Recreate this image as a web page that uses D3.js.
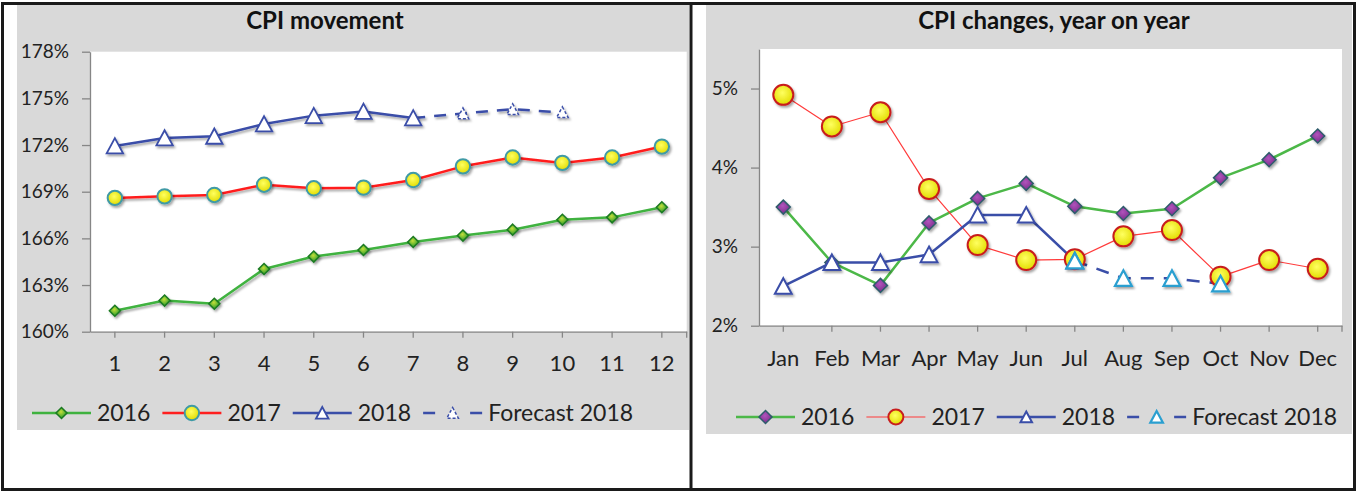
<!DOCTYPE html>
<html>
<head>
<meta charset="utf-8">
<script src="https://cdn.jsdelivr.net/npm/d3@7"></script>
<style>
    html, body { margin: 0; padding: 0; background: #fff; }
    svg { display: block; font-family: Lato, "Open Sans", sans-serif; }
</style>
</head>
<body>
<script>
// categories
const monthNumbers = [1, 2, 3, 4, 5, 6, 7, 8, 9, 10, 11, 12];
const monthNames = ['Jan', 'Feb', 'Mar', 'Apr', 'May', 'Jun', 'Jul', 'Aug', 'Sep', 'Oct', 'Nov', 'Dec'];
const legendLabels = ['2016', '2017', '2018', 'Forecast 2018'];

// CPI movement (%)
const cpi2016 = [161.35, 162.0, 161.8, 164.03, 164.83, 165.25, 165.77, 166.18, 166.56, 167.2, 167.35, 168.0];
const cpi2017 = [168.6, 168.7, 168.79, 169.45, 169.22, 169.26, 169.75, 170.63, 171.2, 170.85, 171.2, 171.9];
const cpi2018 = [171.94, 172.45, 172.56, 173.35, 173.89, 174.16, 173.74, null, null, null, null, null];
const cpiForecast2018 = [null, null, null, null, null, null, 173.74, 174.03, 174.3, 174.1, null, null];
const cpiTicks = [160, 163, 166, 169, 172, 175, 178];

// CPI changes, year on year (%)
const yoy2016 = [3.5, 2.8, 2.51, 3.3, 3.61, 3.8, 3.51, 3.42, 3.48, 3.87, 4.1, 4.4];
const yoy2017 = [4.92, 4.52, 4.7, 3.73, 3.02, 2.83, 2.84, 3.13, 3.21, 2.62, 2.83, 2.72];
const yoy2018 = [2.5, 2.8, 2.8, 2.9, 3.4, 3.4, 2.82, null, null, null, null, null];
const yoyForecast2018 = [null, null, null, null, null, null, 2.82, 2.6, 2.6, 2.53, null, null];
const yoyTicks = [2, 3, 4, 5];

const W = 1361, H = 491;
const svg = d3.select('body').append('svg').attr('width', W).attr('height', H);
const defs = svg.append('defs');

// drop shadow like the spreadsheet markers
defs.append('filter')
    .attr('id', 'shadow')
    .attr('x', '-50%').attr('y', '-50%').attr('width', '200%').attr('height', '200%')
    .append('feDropShadow')
    .attr('dx', 1.5).attr('dy', 2).attr('stdDeviation', 1.2)
    .attr('flood-color', '#000').attr('flood-opacity', 0.35);

function radial(id, inner, outer) {
    const g = defs.append('radialGradient').attr('id', id)
        .attr('cx', '45%').attr('cy', '40%').attr('r', '60%');
    g.append('stop').attr('offset', '0%').attr('stop-color', inner);
    g.append('stop').attr('offset', '100%').attr('stop-color', outer);
}
radial('yellowBall', '#ffff60', '#e2dc00');
radial('greenGem', '#c4de3a', '#1f9a2a');
radial('purpleGem', '#b054bc', '#7a2c8a');

// marker shapes, centred on the point
const shapes = {
    diamond: (s) => `M0,${-s}L${s},0L0,${s}L${-s},0Z`,
    triangle: (s) => `M0,${-s}L${s * 1.05},${s * 0.95}L${-s * 1.05},${s * 0.95}Z`,
    circle: (s) => `M${-s},0A${s},${s} 0 1,0 ${s},0A${s},${s} 0 1,0 ${-s},0Z`
};

// cell borders
svg.append('rect')
    .attr('x', 2.5).attr('y', 3.5).attr('width', 1352).attr('height', 486)
    .attr('fill', 'none').attr('stroke', '#1a1a1a').attr('stroke-width', 3);
svg.append('line')
    .attr('x1', 691).attr('x2', 691).attr('y1', 3).attr('y2', 490)
    .attr('stroke', '#1a1a1a').attr('stroke-width', 3);

const charts = [
    {
        title: 'CPI movement', titleX: 325,
        bg: {x: 17, y: 5, w: 672, h: 425},
        plot: {x0: 90, x1: 686.7, y0: 51.7, y1: 331.7},
        categories: monthNumbers, yDomain: [160, 178], yTicks: cpiTicks,
        labelCenter: 363, legendX: 32, legendY: 413, lineShadow: true, forecastOnTop: false,
        series: [
            {values: cpi2016, color: '#3fb23f', width: 2.5, shape: 'diamond', size: 5.5,
                fill: 'url(#greenGem)', stroke: '#1b7a22', sw: 1.5},
            {values: cpi2017, color: '#ff1f1f', width: 2.5, shape: 'circle', size: 7.2,
                fill: 'url(#yellowBall)', stroke: '#3f9aa6', sw: 2},
            {values: cpi2018, color: '#3a4ea8', width: 2.5, shape: 'triangle', size: 7.8,
                fill: '#fff', stroke: '#3a4ea8', sw: 1.8, legendSize: 6},
            {values: cpiForecast2018, color: '#3a4ea8', width: 2.5, dash: '12,9', shape: 'triangle', size: 5.5,
                fill: '#fff', stroke: '#3a4ea8', sw: 1.5, markerDash: '3,2', legendSize: 5.5, forecast: true}
        ]
    },
    {
        title: 'CPI changes, year on year', titleX: 1054,
        bg: {x: 706, y: 5, w: 646, h: 429},
        plot: {x0: 759, x1: 1342, y0: 49, y1: 325.7},
        categories: monthNames, yDomain: [2, 5.5], yTicks: yoyTicks,
        labelCenter: 358, legendX: 736, legendY: 417, lineShadow: false, forecastOnTop: true,
        series: [
            {values: yoy2016, color: '#4cb848', width: 2.5, shape: 'diamond', size: 7,
                fill: 'url(#purpleGem)', stroke: '#2e5c6c', sw: 1.5, legendSize: 6.5},
            {values: yoy2017, color: '#ff3b3b', width: 1.2, shape: 'circle', size: 10,
                fill: 'url(#yellowBall)', stroke: '#c81e1e', sw: 2, legendSize: 7.5},
            {values: yoy2018, color: '#3a4ea8', width: 2.5, shape: 'triangle', size: 8,
                fill: '#fff', stroke: '#3a4ea8', sw: 2, legendSize: 5.5},
            {values: yoyForecast2018, color: '#3a4ea8', width: 2.5, dash: '13,10', shape: 'triangle', size: 8,
                fill: '#fff', stroke: '#2a9fd0', sw: 2.2, legendSize: 6, forecast: true}
        ]
    }
];

charts.forEach(drawChart);

function drawChart(c) {
    const g = svg.append('g');
    g.append('rect')
        .attr('x', c.bg.x).attr('y', c.bg.y).attr('width', c.bg.w).attr('height', c.bg.h)
        .attr('fill', '#d9d9d9');
    g.append('rect')
        .attr('x', c.plot.x0).attr('y', c.plot.y0)
        .attr('width', c.plot.x1 - c.plot.x0).attr('height', c.plot.y1 - c.plot.y0)
        .attr('fill', '#fff');

    g.append('text')
        .attr('x', c.titleX).attr('y', 28.5)
        .attr('text-anchor', 'middle')
        .attr('font-size', 24).attr('font-weight', 700).attr('fill', '#111')
        .text(c.title);

    const x = d3.scaleBand().domain(c.categories).range([c.plot.x0, c.plot.x1]);
    const y = d3.scaleLinear().domain(c.yDomain).range([c.plot.y1, c.plot.y0]);
    const cx = (i) => x(c.categories[i]) + x.bandwidth() / 2;

    // y axis
    const yAxis = g.append('g')
        .attr('transform', `translate(${c.plot.x0},0)`)
        .call(d3.axisLeft(y).tickValues(c.yTicks).tickSize(8).tickSizeOuter(0)
            .tickPadding(13).tickFormat(d => d + '%'));
    // x axis
    const xAxis = g.append('g')
        .attr('transform', `translate(0,${c.plot.y1})`)
        .call(d3.axisBottom(x).tickSize(6).tickSizeOuter(0).tickPadding(c.labelCenter - c.plot.y1 - 6 - 7.8));
    xAxis.append('line')
        .attr('x1', c.plot.x1).attr('x2', c.plot.x1).attr('y1', 0).attr('y2', 6);
    [yAxis, xAxis].forEach(a => {
        a.selectAll('path, line').attr('stroke', '#868686').attr('stroke-width', 1.3);
        a.selectAll('text').attr('fill', '#222').attr('font-family', 'Lato, sans-serif');
    });
    yAxis.selectAll('text').attr('font-size', 19);
    xAxis.selectAll('text').attr('font-size', 22);

    // lines first, then markers (as the spreadsheet does)
    const line = d3.line()
        .defined(d => d != null)
        .x((d, i) => cx(i))
        .y(d => y(d));
    const lineLayer = g.append('g').attr('filter', c.lineShadow ? 'url(#shadow)' : null);
    c.series.forEach(s => {
        lineLayer.append('path')
            .datum(s.values)
            .attr('d', line)
            .attr('fill', 'none')
            .attr('stroke', s.color)
            .attr('stroke-width', s.width)
            .attr('stroke-dasharray', s.dash || null)
            .attr('stroke-linejoin', 'round');
    });

    const markerLayer = g.append('g').attr('filter', 'url(#shadow)');
    c.series.forEach(s => {
        let pts = s.values.map((v, i) => ({v, i})).filter(p => p.v != null);
        if (s.forecast && !c.forecastOnTop) {
            // the actual 2018 marker covers the shared point
            const actual = c.series[2].values;
            pts = pts.filter(p => actual[p.i] == null);
        }
        markerLayer.selectAll(null)
            .data(pts)
            .enter()
            .append('path')
            .attr('transform', p => `translate(${cx(p.i)},${y(p.v)})`)
            .attr('d', shapes[s.shape](s.size))
            .attr('fill', s.fill)
            .attr('stroke', s.stroke)
            .attr('stroke-width', s.sw)
            .attr('stroke-dasharray', s.markerDash || null)
            .attr('stroke-linejoin', 'miter');
    });

    // legend
    const legend = g.append('g').attr('transform', `translate(0,${c.legendY})`);
    let lx = c.legendX;
    c.series.forEach((s, k) => {
        const sym = legend.append('g').attr('transform', `translate(${lx},0)`);
        sym.append('line')
            .attr('x1', 0).attr('x2', 59)
            .attr('stroke', s.color).attr('stroke-width', s.width)
            .attr('stroke-dasharray', s.forecast ? '12,35' : null);
        sym.append('path')
            .attr('transform', 'translate(29.5,0)')
            .attr('d', shapes[s.shape](s.legendSize || s.size))
            .attr('fill', s.fill)
            .attr('stroke', s.stroke)
            .attr('stroke-width', s.sw)
            .attr('stroke-dasharray', s.markerDash || null);
        const t = legend.append('text')
            .attr('x', lx + 65).attr('y', 8)
            .attr('font-size', 23).attr('fill', '#222')
            .text(legendLabels[k]);
        lx += 65 + t.node().getComputedTextLength() + 12;
    });
}
</script>
</body>
</html>
